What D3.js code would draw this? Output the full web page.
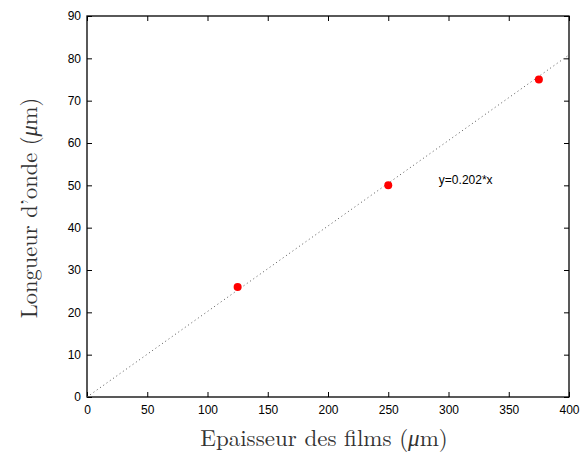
<!DOCTYPE html>
<html><head><meta charset="utf-8">
<script src="https://cdn.jsdelivr.net/npm/d3@7"></script>
<style>body{margin:0;background:#fff}svg{display:block}</style>
</head><body>
<script>
const thickness = [125, 250, 375];
const wavelength = [26, 50, 75];
const slope = 0.202;
const fitX = [0, 400];
const xTicks = [0, 50, 100, 150, 200, 250, 300, 350, 400];
const yTicks = [0, 10, 20, 30, 40, 50, 60, 70, 80, 90];

const W = 582, H = 455;
const m = {l: 87, r: 13, t: 16, b: 58};
const svg = d3.select("body").append("svg").attr("width", W).attr("height", H);
const x = d3.scaleLinear().domain([0, 400]).range([m.l, W - m.r]);
const y = d3.scaleLinear().domain([0, 90]).range([H - m.b, m.t]);

const tickFont = "Liberation Sans, Arial, sans-serif";
const gx = svg.append("g").attr("transform", `translate(0,${H - m.b})`)
  .call(d3.axisBottom(x).tickValues(xTicks).tickSizeInner(-5).tickSizeOuter(0).tickPadding(8));
const gy = svg.append("g").attr("transform", `translate(${m.l},0)`)
  .call(d3.axisLeft(y).tickValues(yTicks).tickSizeInner(-5).tickSizeOuter(0).tickPadding(6));
const gxt = svg.append("g").attr("transform", `translate(0,${m.t})`)
  .call(d3.axisTop(x).tickValues(xTicks).tickSizeInner(-5).tickSizeOuter(0).tickFormat(""));
const gyr = svg.append("g").attr("transform", `translate(${W - m.r},0)`)
  .call(d3.axisRight(y).tickValues(yTicks).tickSizeInner(-5).tickSizeOuter(0).tickFormat(""));
[gx, gy, gxt, gyr].forEach(g => {
  g.select(".domain").remove();
  g.selectAll("line").attr("stroke", "#000").attr("stroke-width", 1);
  g.selectAll("text").attr("font-family", tickFont).attr("font-size", 12).attr("fill", "#000");
});
svg.append("rect").attr("x", m.l).attr("y", m.t).attr("width", W - m.r - m.l).attr("height", H - m.b - m.t)
  .attr("fill", "none").attr("stroke", "#000").attr("stroke-width", 1.3);

svg.append("path")
  .datum(fitX.map(v => [v, slope * v]))
  .attr("d", d3.line().x(d => x(d[0])).y(d => y(d[1])))
  .attr("fill", "none").attr("stroke", "#555").attr("stroke-width", 1).attr("stroke-dasharray", "1,3");

svg.selectAll("circle.pt").data(thickness.map((t, i) => [t, wavelength[i]])).enter()
  .append("circle").attr("class", "pt")
  .attr("cx", d => x(d[0])).attr("cy", d => y(d[1])).attr("r", 4).attr("fill", "#ff0000");

svg.append("text").attr("x", x(292)).attr("y", y(50.3)).attr("font-family", tickFont).attr("font-size", 12)
  .text("y=0.202*x");

const serif = "Latin Modern Roman, Liberation Serif, Times New Roman, serif";
svg.append("text").attr("x", 324).attr("y", 446).attr("text-anchor", "middle")
  .attr("font-family", serif).attr("font-size", 23).attr("fill", "#333")
  .html('Epaisseur des films (<tspan font-style="italic">μ</tspan>m)');
svg.append("text").attr("transform", `translate(37,208) rotate(-90)`).attr("text-anchor", "middle")
  .attr("font-family", serif).attr("font-size", 22.5).attr("fill", "#333")
  .html('Longueur d’onde (<tspan font-style="italic">μ</tspan>m)');
</script>
</body></html>
